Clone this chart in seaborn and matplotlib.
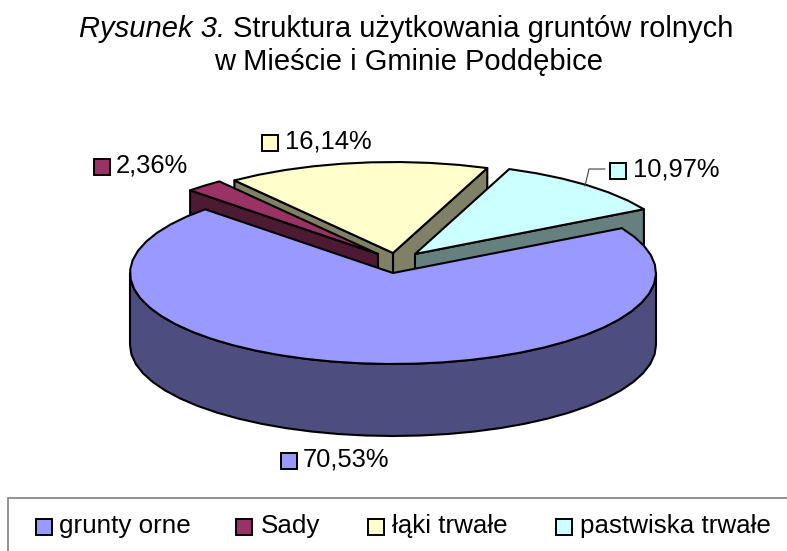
#!/usr/bin/env python3
"""3D-style pie of farmland use, drawn as polygons from the slice shares."""
import numpy as np
import seaborn as sns
import matplotlib
matplotlib.use("Agg")
import matplotlib.pyplot as plt
from matplotlib.patches import Rectangle

categories = ["grunty orne", "Sady", "łąki trwałe", "pastwiska trwałe"]
shares = [70.53, 2.36, 16.14, 10.97]
share_labels = ["70,53%", "2,36%", "16,14%", "10,97%"]

# layout, in pixels of the 787x551 canvas
START_ANGLE = 29.5
RX, RY, DEPTH = 263, 91, 72
CENTERS = [(393, 273), (378, 254), (393, 253), (415, 254)]
DRAW_ORDER = [2, 3, 1, 0]
LABEL_SWATCH = [(281, 453), (94, 159), (262, 135), (610, 163)]
LABEL_TEXT_X = [303, 116, 285, 633]
LEGEND_SWATCH_X = [36, 236, 368, 556]
LEGEND_TEXT_X = [59, 261, 392, 580]
LEGEND_TOP = 498

sns.set_theme(style="white")
plt.rcParams["font.family"] = ["Liberation Sans", "DejaVu Sans"]
plt.rcParams["text.color"] = "black"
palette = sns.color_palette(["#9999FF", "#993366", "#FFFFCC", "#CCFFFF"])
shades = [tuple(c * 0.5 for c in col) for col in palette]


def outer(center, angles):
    rad = np.radians(angles)
    return np.column_stack([center[0] + RX * np.cos(rad), center[1] - RY * np.sin(rad)])


def arc_angles(a0, a1):
    return np.linspace(a0, a1, max(int(abs(a1 - a0) / 6), 2) + 1)


def draw_slice(ax, i, a_hi, a_lo):
    """Slice runs clockwise from a_hi down to a_lo (degrees)."""
    center = np.array(CENTERS[i], dtype=float)
    down = np.array([0, DEPTH])
    kw = dict(edgecolor="black", linewidth=1.5, joinstyle="round")

    # straight cut walls, only the ones that face the viewer
    if i != 0:
        if np.cos(np.radians(a_lo)) > 0:
            pt = outer(center, [a_lo])[0]
            ax.fill(*np.array([center, pt, pt + down, center + down]).T, facecolor=shades[i], **kw)
        if np.cos(np.radians(a_hi)) < 0:
            pt = outer(center, [a_hi])[0]
            ax.fill(*np.array([center, pt, pt + down, center + down]).T, facecolor=shades[i], **kw)
    else:
        # the big slice only shows its rounded front wall
        rim = outer(center, arc_angles(180, 360))
        ax.fill(*np.vstack([rim, (rim + down)[::-1]]).T, facecolor=shades[i], **kw)

    top = np.vstack([center, outer(center, arc_angles(a_hi, a_lo))])
    ax.fill(*top.T, facecolor=palette[i], **kw)


def swatch(ax, x, y, color):
    ax.add_patch(Rectangle((x, y), 16, 16, facecolor=color, edgecolor="black", linewidth=1.4))


def main():
    fig = plt.figure(figsize=(7.87, 5.51), dpi=100)
    ax = fig.add_axes([0, 0, 1, 1])
    ax.set_xlim(0, 787)
    ax.set_ylim(551, 0)
    ax.axis("off")

    # clockwise from START_ANGLE, in data order
    spans = np.array(shares) / sum(shares) * 360
    ends = START_ANGLE - np.cumsum(spans)
    starts = ends + spans
    for i in DRAW_ORDER:
        draw_slice(ax, i, starts[i], ends[i])

    # first title line has an italic lead-in, so measure both parts to centre them
    renderer = fig.canvas.get_renderer()
    lead = ax.text(0, 37, "Rysunek 3.", style="italic", ha="left", va="baseline", fontsize=21)
    rest = ax.text(0, 37, "Struktura użytkowania gruntów rolnych", ha="left", va="baseline", fontsize=21)
    w_lead = lead.get_window_extent(renderer).width
    w_rest = rest.get_window_extent(renderer).width
    gap = 8
    x0 = 406 - (w_lead + w_rest + gap) / 2
    lead.set_x(x0)
    rest.set_x(x0 + w_lead + gap)
    ax.text(409, 70, "w Mieście i Gminie Poddębice", ha="center", va="baseline", fontsize=21)

    # leader line for the pastures label
    ax.plot([585, 589, 605], [186, 169, 169], color="#404040", linewidth=0.8)

    for i, lab in enumerate(share_labels):
        swatch(ax, *LABEL_SWATCH[i], palette[i])
        ax.text(LABEL_TEXT_X[i], LABEL_SWATCH[i][1] + 7, lab, ha="left", va="center", fontsize=18.4)

    ax.add_patch(Rectangle((8, LEGEND_TOP), 790, 80, facecolor="white", edgecolor="#808080", linewidth=1.2))
    for i, name in enumerate(categories):
        swatch(ax, LEGEND_SWATCH_X[i], 519, palette[i])
        ax.text(LEGEND_TEXT_X[i], 526, name, ha="left", va="center", fontsize=18.7)

    fig.savefig("out.png", dpi=100)


if __name__ == "__main__":
    main()
